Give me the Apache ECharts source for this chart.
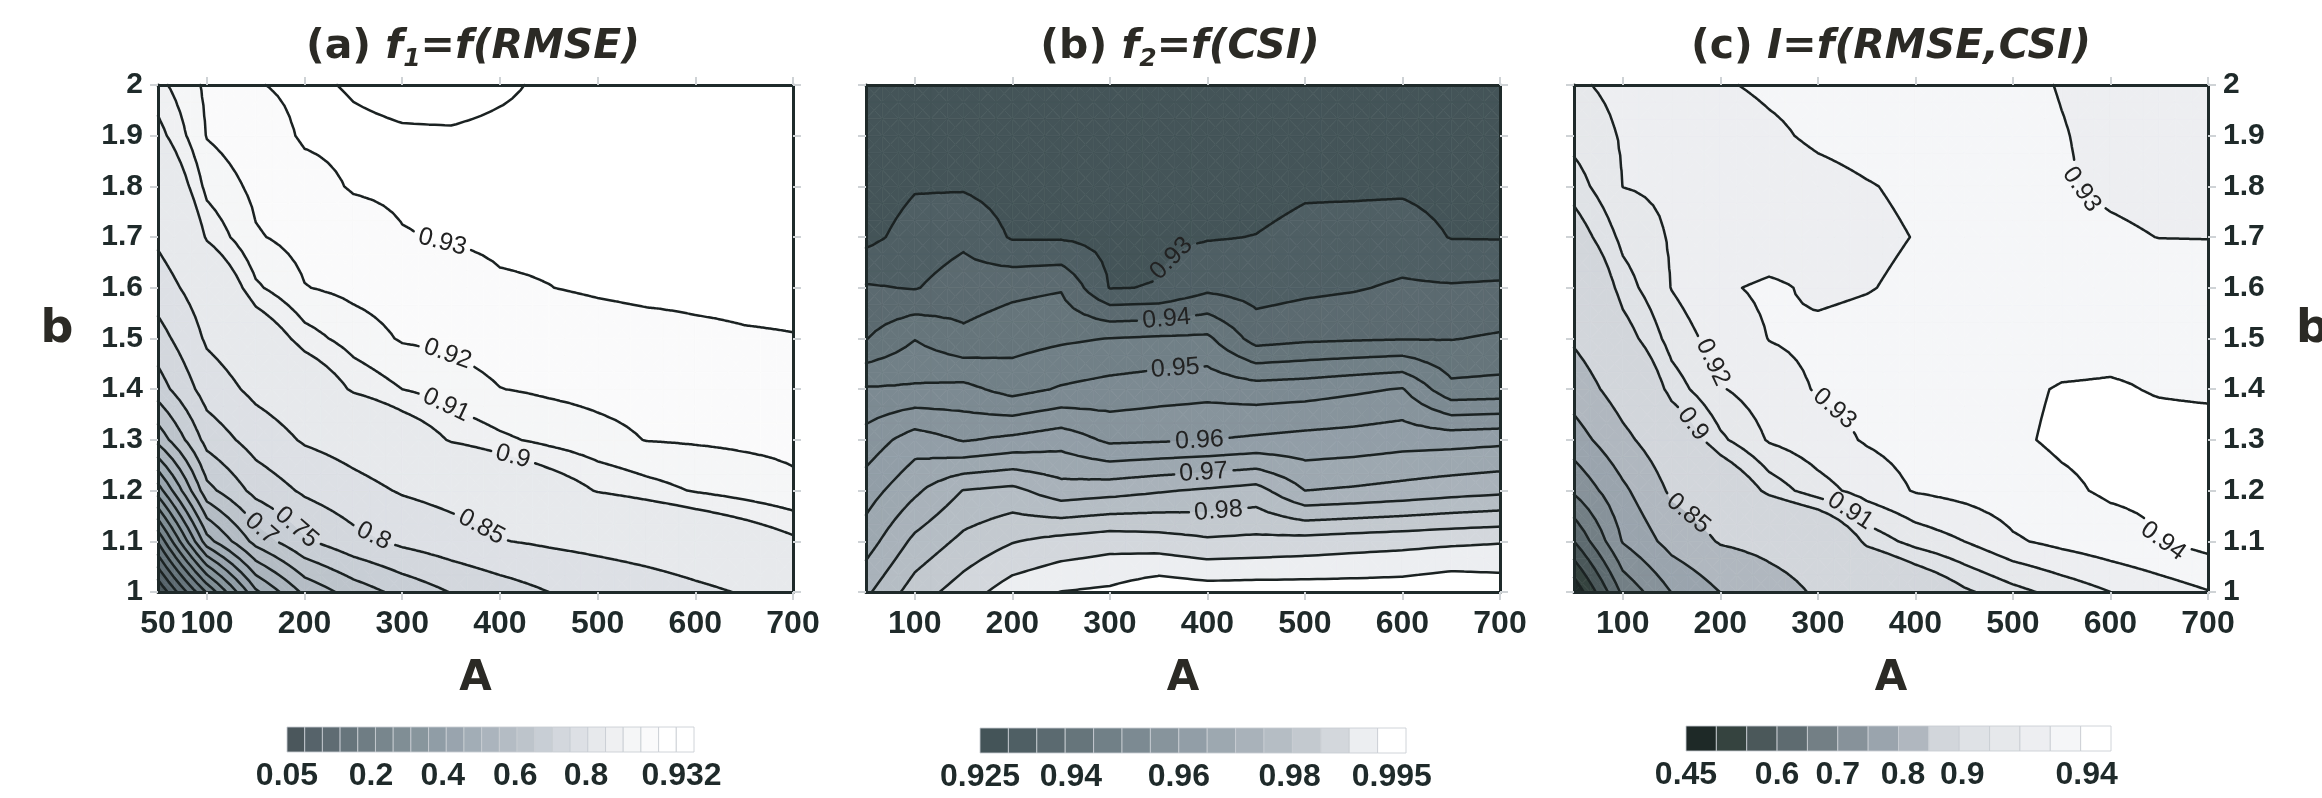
<!DOCTYPE html>
<html>
<head>
<meta charset="utf-8">
<title>Contour maps</title>
<script src="https://cdn.jsdelivr.net/npm/echarts@6/dist/echarts.min.js"></script>
<style>
html,body{margin:0;padding:0;background:#ffffff;}
#chart{width:2322px;height:798px;}
</style>
</head>
<body>
<div id="chart"></div>
<script>
// ---------------- data ----------------
const A_VALUES = [50, 100, 150, 200, 250, 300, 350, 400, 450, 500, 550, 600, 650, 700];
const B_VALUES = [1.0, 1.1, 1.2, 1.3, 1.4, 1.5, 1.6, 1.7, 1.8, 1.9, 2.0];

// (a) f1 = f(RMSE) : one row per b (1.0 -> 2.0), one column per A (50 -> 700)
const F1_VALUES = [
  [0.000, 0.256, 0.490, 0.612, 0.672, 0.716, 0.752, 0.776, 0.800, 0.814, 0.827, 0.841, 0.853, 0.861],
  [0.205, 0.529, 0.668, 0.743, 0.784, 0.811, 0.829, 0.848, 0.857, 0.865, 0.873, 0.881, 0.889, 0.8975],
  [0.424, 0.683, 0.766, 0.808, 0.834, 0.854, 0.866, 0.878, 0.890, 0.901, 0.906, 0.9108, 0.9145, 0.9181],
  [0.616, 0.768, 0.822, 0.855, 0.871, 0.887, 0.9014, 0.9079, 0.9127, 0.9166, 0.9203, 0.921, 0.9217, 0.9221],
  [0.726, 0.823, 0.862, 0.884, 0.9021, 0.910, 0.9151, 0.9198, 0.9216, 0.9229, 0.9238, 0.9249, 0.9256, 0.9259],
  [0.779, 0.857, 0.886, 0.9055, 0.9146, 0.921, 0.9224, 0.9245, 0.9257, 0.9268, 0.9276, 0.9288, 0.9295, 0.9298],
  [0.827, 0.878, 0.9081, 0.9196, 0.9226, 0.9249, 0.9265, 0.9292, 0.9299, 0.9308, 0.9315, 0.9314, 0.9314, 0.9314],
  [0.858, 0.9017, 0.919, 0.9236, 0.9266, 0.9296, 0.9306, 0.9312, 0.9312, 0.9312, 0.9314, 0.9314, 0.9314, 0.9314],
  [0.877, 0.9132, 0.9224, 0.9274, 0.9306, 0.9312, 0.9313, 0.9314, 0.9314, 0.9314, 0.9314, 0.9314, 0.9314, 0.9314],
  [0.8955, 0.9205, 0.9261, 0.9309, 0.9316, 0.9318, 0.9318, 0.9316, 0.9315, 0.9315, 0.9315, 0.9315, 0.9315, 0.9315],
  [0.907, 0.922, 0.9296, 0.9316, 0.9322, 0.9326, 0.9328, 0.9323, 0.9317, 0.9316, 0.9316, 0.9316, 0.9316, 0.9316]
];

// (b) f2 = f(CSI)
const F2_VALUES = [
  [0.974, 0.9824, 0.9875, 0.9926, 0.9951, 0.99595, 0.99863, 0.99759, 0.99775, 0.9977, 0.9977, 0.99787, 0.99917, 0.99831],
  [0.9676, 0.9762, 0.9813, 0.9847, 0.9867, 0.988, 0.9873, 0.9858, 0.9863, 0.9869, 0.9877, 0.9883, 0.989, 0.9896],
  [0.9626, 0.969, 0.9752, 0.9764, 0.9721, 0.9731, 0.9745, 0.9757, 0.977, 0.970, 0.9707, 0.9717, 0.9729, 0.9738],
  [0.957, 0.9625, 0.9596, 0.9612, 0.963, 0.959, 0.9594, 0.9599, 0.9608, 0.9616, 0.9621, 0.963, 0.9632, 0.9638],
  [0.9505, 0.9507, 0.9514, 0.9482, 0.9505, 0.9518, 0.9527, 0.9533, 0.9524, 0.9529, 0.9541, 0.9553, 0.9464, 0.9468],
  [0.9398, 0.9448, 0.9411, 0.943, 0.9442, 0.9451, 0.9457, 0.946, 0.9379, 0.939, 0.9394, 0.9397, 0.9398, 0.9406],
  [0.9355, 0.9347, 0.9374, 0.9388, 0.9396, 0.9298, 0.9302, 0.9338, 0.9329, 0.9339, 0.9346, 0.9357, 0.9355, 0.9359],
  [0.9285, 0.9322, 0.934, 0.9295, 0.9295, 0.9285, 0.929, 0.9297, 0.9301, 0.9312, 0.9317, 0.9322, 0.9298, 0.9297],
  [0.927, 0.9296, 0.9295, 0.928, 0.928, 0.928, 0.928, 0.928, 0.9285, 0.9294, 0.9293, 0.9293, 0.9285, 0.9285],
  [0.9265, 0.928, 0.928, 0.9275, 0.9275, 0.9275, 0.9275, 0.9275, 0.9278, 0.928, 0.928, 0.928, 0.928, 0.928],
  [0.926, 0.927, 0.927, 0.927, 0.927, 0.927, 0.927, 0.927, 0.927, 0.927, 0.927, 0.927, 0.927, 0.927]
];

// (c) I = f(RMSE, CSI)
const I_VALUES = [
  [0.46, 0.6615, 0.751, 0.8006, 0.8311, 0.8554, 0.8696, 0.8838, 0.898, 0.9067, 0.9137, 0.920, 0.925, 0.9295],
  [0.60, 0.7533, 0.8186, 0.8536, 0.8634, 0.8732, 0.9032, 0.9137, 0.920, 0.9286, 0.9329, 0.9363, 0.9397, 0.9435],
  [0.708, 0.790, 0.858, 0.8815, 0.9036, 0.9158, 0.9243, 0.9307, 0.9333, 0.9359, 0.9385, 0.9412, 0.9418, 0.942],
  [0.777, 0.8379, 0.885, 0.9078, 0.921, 0.9263, 0.9308, 0.9335, 0.9362, 0.9389, 0.9412, 0.942, 0.9425, 0.9425],
  [0.823, 0.873, 0.9046, 0.9191, 0.9259, 0.9307, 0.9326, 0.9346, 0.9365, 0.9385, 0.9405, 0.9408, 0.9395, 0.939],
  [0.856, 0.8932, 0.9142, 0.9244, 0.9302, 0.9318, 0.9328, 0.9335, 0.9345, 0.9355, 0.9368, 0.9375, 0.938, 0.9385],
  [0.874, 0.905, 0.9203, 0.9288, 0.9315, 0.9285, 0.9296, 0.9315, 0.9325, 0.9335, 0.934, 0.9345, 0.9345, 0.9345],
  [0.892, 0.9129, 0.921, 0.9229, 0.9247, 0.9265, 0.9284, 0.9302, 0.932, 0.933, 0.9322, 0.931, 0.9299, 0.9298],
  [0.905, 0.9201, 0.922, 0.9239, 0.9258, 0.9277, 0.9296, 0.9312, 0.932, 0.9315, 0.9305, 0.929, 0.9282, 0.928],
  [0.9135, 0.9209, 0.9235, 0.9261, 0.9287, 0.9312, 0.9325, 0.933, 0.9325, 0.9315, 0.9302, 0.929, 0.9285, 0.9283],
  [0.9185, 0.9226, 0.926, 0.9293, 0.9312, 0.9322, 0.9328, 0.9326, 0.932, 0.931, 0.9298, 0.929, 0.9285, 0.9283]
];

// contour levels
const F1_LEVELS = [0.05, 0.1, 0.15, 0.2, 0.25, 0.3, 0.35, 0.4, 0.45, 0.5, 0.55, 0.6, 0.65, 0.7, 0.75, 0.8, 0.85, 0.9, 0.91, 0.92, 0.93, 0.932];
const F2_LEVELS = [0.93, 0.935, 0.94, 0.945, 0.95, 0.955, 0.96, 0.965, 0.97, 0.975, 0.98, 0.985, 0.99, 0.995];
const I_LEVELS = [0.5, 0.55, 0.6, 0.65, 0.7, 0.75, 0.8, 0.85, 0.9, 0.91, 0.92, 0.93, 0.94];

// labelled contour lines: [level, A near label, b near label]
const F1_LINE_LABELS = [[0.7, 157, 1.128], [0.75, 194, 1.132], [0.8, 273, 1.118], [0.85, 381, 1.128], [0.9, 410, 1.243], [0.91, 341, 1.355], [0.92, 341, 1.44], [0.93, 341, 1.69]];
const F2_LINE_LABELS = [[0.93, 371, 1.643], [0.94, 358, 1.541], [0.95, 367, 1.446], [0.96, 392, 1.298], [0.97, 396, 1.239], [0.98, 411, 1.166]];
const I_LINE_LABELS = [[0.85, 162, 1.143], [0.9, 160, 1.314], [0.91, 327, 1.143], [0.92, 185, 1.446], [0.93, 310, 1.347], [0.93, 572, 1.798], [0.94, 651, 1.0875]];

// colour-bar tick labels: [text, box index]
const F1_BAR_TICKS = [['0.05', 0], ['0.2', 4.75], ['0.4', 8.8], ['0.6', 12.9], ['0.8', 16.9], ['0.932', 22.3]];
const F2_BAR_TICKS = [['0.925', 0], ['0.94', 3.2], ['0.96', 7.0], ['0.98', 10.9], ['0.995', 14.5]];
const I_BAR_TICKS = [['0.45', 0], ['0.6', 3], ['0.7', 5], ['0.8', 7.15], ['0.9', 9.1], ['0.94', 13.2]];

// axis tick labels
const X_TICKS = [100, 200, 300, 400, 500, 600, 700];
const X_LABELS_A = [50, 100, 200, 300, 400, 500, 600, 700];
const X_LABELS_BC = [100, 200, 300, 400, 500, 600, 700];

// ---------------- styles ----------------
const F1_COLORS = ['#4b575c', '#56636a', '#5f6c73', '#67757c', '#6f7d84', '#78868d', '#808e95', '#88969d', '#909da6', '#99a4ae', '#a2adb6', '#abb4bd', '#b4bcc4', '#bdc4cb', '#c8ced5', '#d3d7dd', '#dde0e5', '#e7e9ec', '#eff0f2', '#f5f6f7', '#fafafb', '#ffffff', '#ffffff'];
const F2_COLORS = ['#445458', '#4f5f64', '#5b6a70', '#66757b', '#718087', '#7c8a92', '#87949c', '#929ea7', '#9da8b0', '#a9b2ba', '#b5bdc4', '#c3c9cf', '#d3d7dc', '#eceef1', '#ffffff'];
const I_COLORS = ['#1e2927', '#35433f', '#4b585a', '#5e6b70', '#737f85', '#87929a', '#9aa4ad', '#b0b7bf', '#d2d6db', '#dfe2e6', '#e6e8eb', '#edeef1', '#f5f6f8', '#ffffff'];
const FRAME = '#1f2a2a';
const TICK = '#cfd3d6';
const TEXT = '#1f2a2a';
const LINE = '#1b2222';
const BOLD = 'DejaVu Sans';
const TICK_FONT = 'Liberation Sans';
const LABEL_FONT = 'Liberation Sans';
const LABEL_FS = 25;

// ---------------- contour computation ----------------
// the measured grid is refined with bilinear interpolation only for drawing smooth bands/lines
const SUB = 3;
function refine(rows) {
  const as = [], bs = [];
  for (let i = 0; i < A_VALUES.length - 1; i++) for (let s = 0; s < SUB; s++) as.push(A_VALUES[i] + (A_VALUES[i + 1] - A_VALUES[i]) * s / SUB);
  as.push(A_VALUES[A_VALUES.length - 1]);
  for (let j = 0; j < B_VALUES.length - 1; j++) for (let s = 0; s < SUB; s++) bs.push(B_VALUES[j] + (B_VALUES[j + 1] - B_VALUES[j]) * s / SUB);
  bs.push(B_VALUES[B_VALUES.length - 1]);
  const vals = bs.map((b, fj) => as.map((a, fi) => {
    const i = Math.min(Math.floor(fi / SUB), A_VALUES.length - 2), si = (fi - i * SUB) / SUB;
    const j = Math.min(Math.floor(fj / SUB), B_VALUES.length - 2), sj = (fj - j * SUB) / SUB;
    const v00 = rows[j][i], v10 = rows[j][i + 1], v01 = rows[j + 1][i], v11 = rows[j + 1][i + 1];
    return (1 - si) * (1 - sj) * v00 + si * (1 - sj) * v10 + (1 - si) * sj * v01 + si * sj * v11;
  }));
  return { as: as, bs: bs, vals: vals };
}
function lerpNode(p, q, val) {
  const t = (val - p.v) / (q.v - p.v);
  return { a: p.a + t * (q.a - p.a), b: p.b + t * (q.b - p.b), v: val };
}
function clipHalf(poly, val, above) {
  const out = [];
  const n = poly.length;
  for (let k = 0; k < n; k++) {
    const S = poly[(k + n - 1) % n], E = poly[k];
    const sIn = above ? S.v >= val : S.v <= val;
    const eIn = above ? E.v >= val : E.v <= val;
    if (eIn) { if (!sIn) out.push(lerpNode(S, E, val)); out.push(E); }
    else if (sIn) out.push(lerpNode(S, E, val));
  }
  return out;
}
function chainSegments(segs) {
  const byKey = new Map();
  segs.forEach((s, i) => s.forEach(p => { if (!byKey.has(p.key)) byKey.set(p.key, []); byKey.get(p.key).push(i); }));
  const used = new Array(segs.length).fill(false);
  const out = [];
  for (let s = 0; s < segs.length; s++) {
    if (used[s]) continue;
    used[s] = true;
    let line = [segs[s][0], segs[s][1]];
    for (let pass = 0; pass < 2; pass++) {
      while (true) {
        const last = line[line.length - 1];
        const cand = (byKey.get(last.key) || []).find(i => !used[i]);
        if (cand === undefined) break;
        used[cand] = true;
        const sg = segs[cand];
        line.push(sg[0].key === last.key ? sg[1] : sg[0]);
      }
      line.reverse();
    }
    out.push(line.map(p => [p.a, p.b]));
  }
  return out;
}
function buildPanel(rows, levels) {
  const g = refine(rows);
  const nx = g.as.length, ny = g.bs.length;
  const nodes = [];
  for (let j = 0; j < ny; j++) for (let i = 0; i < nx; i++) nodes[j * nx + i] = { a: g.as[i], b: g.bs[j], v: g.vals[j][i] };
  const cells = [];
  const segs = levels.map(() => []);
  for (let j = 0; j < ny - 1; j++) for (let i = 0; i < nx - 1; i++) {
    const ids = [j * nx + i, j * nx + i + 1, (j + 1) * nx + i + 1, (j + 1) * nx + i];
    const cid = nx * ny + cells.length;
    const c = { a: 0, b: 0, v: 0 };
    ids.forEach(id => { c.a += nodes[id].a / 4; c.b += nodes[id].b / 4; c.v += nodes[id].v / 4; });
    nodes[cid] = c;
    const polys = [];
    for (let e = 0; e < 4; e++) {
      const tri = [ids[e], ids[(e + 1) % 4], cid];
      const pts = tri.map(id => nodes[id]);
      const vs = pts.map(p => p.v);
      const vmin = Math.min.apply(null, vs), vmax = Math.max.apply(null, vs);
      for (let k = 0; k <= levels.length; k++) {
        const lo = k > 0 ? levels[k - 1] : -Infinity;
        const hi = k < levels.length ? levels[k] : Infinity;
        if (vmax < lo || vmin > hi) continue;
        let poly = pts;
        if (k > 0) poly = clipHalf(poly, lo, true);
        if (poly.length >= 3 && k < levels.length) poly = clipHalf(poly, hi, false);
        if (poly.length >= 3) polys.push({ k: k, pts: poly.map(p => [p.a, p.b]) });
      }
      levels.forEach((L, li) => {
        if (!(vmax >= L && vmin < L)) return;
        const cr = [];
        for (let m = 0; m < 3; m++) {
          const p = pts[m], q = pts[(m + 1) % 3];
          if ((p.v >= L) !== (q.v >= L)) {
            const r = lerpNode(p, q, L);
            const id1 = tri[m], id2 = tri[(m + 1) % 3];
            cr.push({ a: r.a, b: r.b, key: Math.min(id1, id2) + '_' + Math.max(id1, id2) });
          }
        }
        if (cr.length === 2) segs[li].push(cr);
      });
    }
    cells.push({ center: [c.a, c.b], polys: polys });
  }
  return { cells: cells, lines: segs.map(chainSegments) };
}

// ---------------- geometry helpers for labels ----------------
function nearestOnLines(polys, t) {
  let best = null;
  polys.forEach((pl, pi) => {
    for (let k = 0; k < pl.length - 1; k++) {
      const p = pl[k], q = pl[k + 1];
      const dx = q[0] - p[0], dy = q[1] - p[1];
      const L2 = dx * dx + dy * dy;
      let u = L2 > 0 ? ((t[0] - p[0]) * dx + (t[1] - p[1]) * dy) / L2 : 0;
      u = Math.max(0, Math.min(1, u));
      const x = p[0] + u * dx, y = p[1] + u * dy;
      const d = Math.hypot(t[0] - x, t[1] - y);
      if (!best || d < best.d) best = { d: d, pi: pi, k: k, u: u, x: x, y: y };
    }
  });
  return best;
}
function walkAlong(pl, k, u, dist) {
  let cur = [pl[k][0] + u * (pl[k + 1][0] - pl[k][0]), pl[k][1] + u * (pl[k + 1][1] - pl[k][1])];
  let rem = Math.abs(dist);
  let idx = dist > 0 ? k + 1 : k;
  const step = dist > 0 ? 1 : -1;
  while (idx >= 0 && idx < pl.length) {
    const nx = pl[idx];
    const seg = Math.hypot(nx[0] - cur[0], nx[1] - cur[1]);
    if (seg >= rem && seg > 0) { const f = rem / seg; return [cur[0] + f * (nx[0] - cur[0]), cur[1] + f * (nx[1] - cur[1])]; }
    rem -= seg; cur = nx; idx += step;
  }
  return cur;
}
function cutLine(pts, circles) {
  if (!circles.length) return [pts];
  const pieces = []; let cur = [];
  const inside = (x, y) => circles.some(c => (x - c.x) * (x - c.x) + (y - c.y) * (y - c.y) < c.r * c.r);
  if (!inside(pts[0][0], pts[0][1])) cur.push(pts[0]);
  for (let k = 1; k < pts.length; k++) {
    const p = pts[k - 1], q = pts[k];
    const len = Math.hypot(q[0] - p[0], q[1] - p[1]);
    const n = Math.max(1, Math.ceil(len / 1.5));
    for (let s = 1; s <= n; s++) {
      const x = p[0] + (q[0] - p[0]) * s / n, y = p[1] + (q[1] - p[1]) * s / n;
      if (inside(x, y)) { if (cur.length > 1) pieces.push(cur); cur = []; }
      else cur.push([x, y]);
    }
  }
  if (cur.length > 1) pieces.push(cur);
  return pieces;
}
function labelWidth(txt) {
  let w = 0;
  for (const ch of txt) w += (ch === '.' ? 0.278 : 0.556) * LABEL_FS;
  return w;
}

// ---------------- panels ----------------
const PANELS = [
  { values: F1_VALUES, levels: F1_LEVELS, colors: F1_COLORS, lineLabels: F1_LINE_LABELS, barTicks: F1_BAR_TICKS, xLabels: X_LABELS_A, yLabels: 'left',
    grid: { left: 158, top: 85, width: 635, height: 507 }, bar: { left: 287, top: 727, width: 407, height: 25 } },
  { values: F2_VALUES, levels: F2_LEVELS, colors: F2_COLORS, lineLabels: F2_LINE_LABELS, barTicks: F2_BAR_TICKS, xLabels: X_LABELS_BC, yLabels: null,
    grid: { left: 866, top: 85, width: 634, height: 507 }, bar: { left: 980, top: 728, width: 426, height: 25 } },
  { values: I_VALUES, levels: I_LEVELS, colors: I_COLORS, lineLabels: I_LINE_LABELS, barTicks: I_BAR_TICKS, xLabels: X_LABELS_BC, yLabels: 'right',
    grid: { left: 1574, top: 85, width: 634, height: 507 }, bar: { left: 1686, top: 726, width: 425, height: 25 } }
];
PANELS.forEach(p => { p.model = buildPanel(p.values, p.levels); });

const grids = [], xAxes = [], yAxes = [], series = [];
const yFmt = v => String(Math.round(v * 10) / 10);

PANELS.forEach(P => { grids.push(Object.assign({ containLabel: false, outerBoundsMode: 'none' }, P.grid)); });
PANELS.forEach(P => { grids.push(Object.assign({ containLabel: false, outerBoundsMode: 'none' }, P.bar)); });

PANELS.forEach((P, pi) => {
  xAxes[pi] = {
    gridIndex: pi, type: 'value', min: 50, max: 700, interval: 50, position: 'bottom', z: 10,
    axisLine: { show: true, onZero: false, lineStyle: { color: FRAME, width: 3 } },
    axisTick: { show: true, inside: false, length: 8, lineStyle: { color: TICK, width: 2 }, customValues: X_TICKS },
    axisLabel: { show: true, customValues: P.xLabels, showMinLabel: true, showMaxLabel: true, hideOverlap: false,
                 margin: 16, fontSize: 32, fontWeight: 'bold', fontFamily: TICK_FONT, color: TEXT },
    splitLine: { show: false },
    name: 'A', nameLocation: 'middle', nameGap: 66,
    nameTextStyle: { fontSize: 42, fontWeight: 'bold', fontFamily: BOLD, color: '#2b2a25' }
  };
  xAxes[3 + pi] = {
    gridIndex: pi, type: 'value', min: 50, max: 700, interval: 50, position: 'top', z: 10,
    axisLine: { show: true, onZero: false, lineStyle: { color: FRAME, width: 3 } },
    axisTick: { show: true, inside: false, length: 8, lineStyle: { color: TICK, width: 2 }, customValues: X_TICKS },
    axisLabel: { show: false }, splitLine: { show: false }
  };
  yAxes[pi] = {
    gridIndex: pi, type: 'value', min: 1, max: 2, interval: 0.1, position: 'left', z: 10,
    axisLine: { show: true, onZero: false, lineStyle: { color: FRAME, width: 3 } },
    axisTick: { show: true, inside: false, length: 8, lineStyle: { color: TICK, width: 2 } },
    axisLabel: { show: P.yLabels === 'left', margin: 15, fontSize: 30, fontWeight: 'bold', fontFamily: TICK_FONT, color: TEXT, formatter: yFmt },
    splitLine: { show: false }
  };
  yAxes[3 + pi] = {
    gridIndex: pi, type: 'value', min: 1, max: 2, interval: 0.1, position: 'right', z: 10,
    axisLine: { show: true, onZero: false, lineStyle: { color: FRAME, width: 3 } },
    axisTick: { show: true, inside: false, length: 8, lineStyle: { color: TICK, width: 2 } },
    axisLabel: { show: P.yLabels === 'right', margin: 15, fontSize: 30, fontWeight: 'bold', fontFamily: TICK_FONT, color: TEXT, formatter: yFmt },
    splitLine: { show: false }
  };
  xAxes[6 + pi] = { gridIndex: 3 + pi, type: 'value', min: 0, max: P.colors.length, show: false };
  yAxes[6 + pi] = { gridIndex: 3 + pi, type: 'value', min: 0, max: 1, show: false };

  const model = P.model;
  series.push({
    type: 'custom', xAxisIndex: pi, yAxisIndex: pi, z: 1, silent: true, animation: false,
    encode: { x: 0, y: 1 },
    data: model.cells.map((c, i) => [c.center[0], c.center[1], i]),
    renderItem: function (params, api) {
      const cell = model.cells[api.value(2)];
      return {
        type: 'group',
        children: cell.polys.map(pg => ({
          type: 'polygon',
          shape: { points: pg.pts.map(q => api.coord(q)) },
          style: { fill: P.colors[pg.k], stroke: P.colors[pg.k], lineWidth: 0.7 }
        }))
      };
    }
  });
  series.push({
    type: 'custom', xAxisIndex: pi, yAxisIndex: pi, z: 3, silent: true, animation: false,
    encode: { x: 0, y: 1 },
    data: P.levels.map((L, i) => [A_VALUES[0], B_VALUES[0], i]),
    renderItem: function (params, api) {
      const li = api.value(2);
      const L = P.levels[li];
      const polys = model.lines[li].map(line => line.map(p => api.coord(p)));
      const children = [];
      const circles = [];
      P.lineLabels.filter(an => an[0] === L).forEach(an => {
        const target = api.coord([an[1], an[2]]);
        const best = nearestOnLines(polys, target);
        if (!best) return;
        const pl = polys[best.pi];
        const back = walkAlong(pl, best.k, best.u, -18);
        const fwd = walkAlong(pl, best.k, best.u, 18);
        let ang = Math.atan2(fwd[1] - back[1], fwd[0] - back[0]);
        if (ang > Math.PI / 2) ang -= Math.PI;
        if (ang < -Math.PI / 2) ang += Math.PI;
        const txt = String(L);
        circles.push({ x: best.x, y: best.y, r: labelWidth(txt) / 2 + 5 });
        children.push({
          type: 'text', x: best.x, y: best.y, rotation: -ang, z2: 10,
          style: { text: txt, fill: '#222222', fontSize: LABEL_FS, fontFamily: LABEL_FONT,
                   align: 'center', verticalAlign: 'middle', textAlign: 'center', textVerticalAlign: 'middle' }
        });
      });
      polys.forEach(pl => {
        cutLine(pl, circles).forEach(piece => {
          children.push({ type: 'polyline', shape: { points: piece },
            style: { stroke: LINE, lineWidth: 2.5, fill: 'none', lineJoin: 'round', lineCap: 'round' } });
        });
      });
      return { type: 'group', children: children };
    }
  });
  series.push({
    type: 'custom', xAxisIndex: 6 + pi, yAxisIndex: 6 + pi, z: 2, silent: true, animation: false,
    encode: { x: 0, y: 1 },
    data: P.colors.map((c, k) => [k + 0.5, 0.5, k]),
    renderItem: function (params, api) {
      const k = api.value(2);
      const p0 = api.coord([k, 1]), p1 = api.coord([k + 1, 0]);
      return { type: 'rect', shape: { x: p0[0], y: p0[1], width: p1[0] - p0[0], height: p1[1] - p0[1] },
        style: { fill: P.colors[k], stroke: 'rgba(200,205,210,0.85)', lineWidth: 1 } };
    }
  });
  series.push({
    type: 'custom', xAxisIndex: 6 + pi, yAxisIndex: 6 + pi, z: 2, silent: true, animation: false,
    encode: { x: 0, y: 1 },
    data: P.barTicks.map((t, i) => [t[1], 0, i]),
    renderItem: function (params, api) {
      const t = P.barTicks[api.value(2)];
      const p = api.coord([t[1], 0]);
      return { type: 'text', x: p[0], y: p[1] + 24,
        style: { text: t[0], fill: TEXT, fontSize: 32, fontWeight: 'bold', fontFamily: TICK_FONT,
                 align: 'center', verticalAlign: 'middle', textAlign: 'center', textVerticalAlign: 'middle' } };
    }
  });
});

function titleText(x, text) {
  const base = { fontFamily: BOLD, fontWeight: 'bold', fontSize: 41, lineHeight: 50, fill: '#2b2a25', color: '#2b2a25' };
  return {
    type: 'text', x: x, y: 47, z: 20,
    style: {
      text: text, align: 'center', verticalAlign: 'middle', textAlign: 'center', textVerticalAlign: 'middle',
      font: 'bold 41px DejaVu Sans', fill: '#2b2a25',
      rich: {
        n: base,
        i: Object.assign({}, base, { fontStyle: 'italic' }),
        s: Object.assign({}, base, { fontStyle: 'italic', fontSize: 25, verticalAlign: 'bottom' })
      }
    }
  };
}

const option = {
  animation: false,
  backgroundColor: '#ffffff',
  grid: grids,
  xAxis: xAxes,
  yAxis: yAxes,
  series: series,
  graphic: [
    titleText(473, '{n|(a) }{i|f}{s|1}{i|=f(RMSE)}'),
    titleText(1180, '{n|(b) }{i|f}{s|2}{i|=f(CSI)}'),
    titleText(1891, '{n|(c) }{i|I=f(RMSE,CSI)}'),
    { type: 'text', x: 57, y: 330, z: 20, style: { text: 'b', font: 'bold 46px DejaVu Sans', fill: '#2b2a25', align: 'center', verticalAlign: 'middle', textAlign: 'center', textVerticalAlign: 'middle' } },
    { type: 'text', x: 2296, y: 330, z: 20, style: { text: 'b', font: 'bold 46px DejaVu Sans', fill: '#2b2a25', align: 'left', verticalAlign: 'middle', textAlign: 'left', textVerticalAlign: 'middle' } }
  ]
};

const chart = echarts.init(document.getElementById('chart'), null, { renderer: 'canvas' });
chart.setOption(option);
</script>
</body>
</html>
